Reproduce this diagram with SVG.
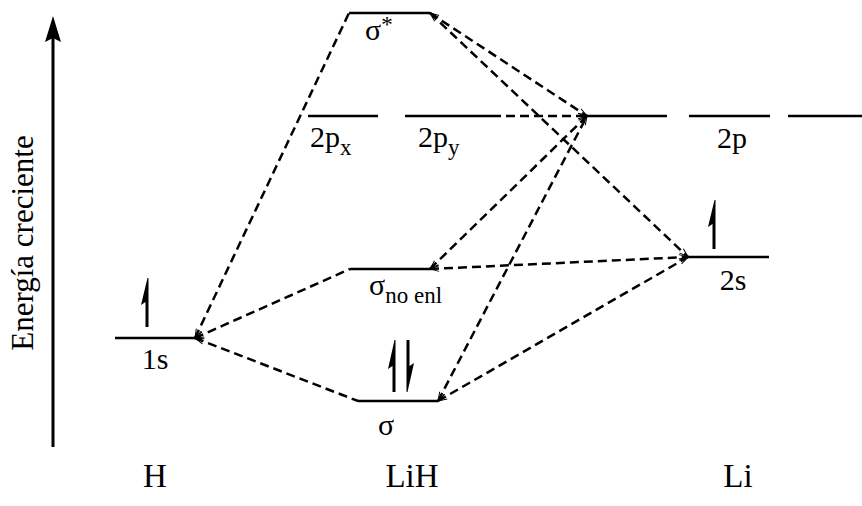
<svg xmlns="http://www.w3.org/2000/svg" width="862" height="506" viewBox="0 0 862 506">
<style>
.lvl{stroke:#000;stroke-width:2.6;fill:none}
.cn{stroke:#000;stroke-width:2.5;stroke-dasharray:9 5;fill:none}
text{font-family:"Liberation Serif","Times New Roman",serif;fill:#000}
.lb{font-size:30px}
.big{font-size:33px}
.sub{font-size:23px}
</style>
<defs>
<marker id="ch" markerUnits="userSpaceOnUse" markerWidth="14" markerHeight="10" refX="0" refY="0" viewBox="-12 -5 14 10" orient="auto-start-reverse" overflow="visible">
<path d="M-9,-2.8 L0,0 L-9,2.8" fill="none" stroke="#000" stroke-width="1"/>
</marker>
</defs>
<g id="axis">
<line x1="53" y1="447" x2="53" y2="36" stroke="#000" stroke-width="3"/>
<polygon points="53,16 61,42 53,38 45,42" fill="#000"/>
<text transform="translate(33,243) rotate(-90)" text-anchor="middle" style="font-size:31px">Energía creciente</text>
</g>
<g id="connectors">
<path class="cn" d="M195,338 L349,13" marker-start="url(#ch)"/>
<path class="cn" d="M195,338 L350,269" marker-start="url(#ch)"/>
<path class="cn" d="M195,338 L358,401" marker-start="url(#ch)"/>
<path class="cn" d="M430,13 L587,116" marker-start="url(#ch)" marker-end="url(#ch)"/>
<path class="cn" d="M430,13 L688,257" marker-start="url(#ch)" marker-end="url(#ch)"/>
<path class="cn" d="M492,116 L587,116" marker-end="url(#ch)"/>
<path class="cn" d="M430,269 L587,116" marker-start="url(#ch)" marker-end="url(#ch)"/>
<path class="cn" d="M430,269 L688,257" marker-start="url(#ch)" marker-end="url(#ch)"/>
<path class="cn" d="M438,401 L587,116" marker-start="url(#ch)" marker-end="url(#ch)"/>
<path class="cn" d="M438,401 L688,257" marker-start="url(#ch)" marker-end="url(#ch)"/>
</g>
<g id="H1s">
<line class="lvl" x1="115" y1="338" x2="195" y2="338"/>
<path d="M145.5,327 L145.5,302 L141,305 L147.5,278 L148.5,278 L148.5,327 Z" fill="#000"/>
<text class="lb" x="155" y="369" text-anchor="middle">1s</text>
</g>
<g id="sigmaStar">
<line class="lvl" x1="349" y1="13" x2="430" y2="13"/>
<text class="lb" x="365" y="40">σ<tspan class="sub" dy="-8">*</tspan></text>
</g>
<g id="p2x">
<line class="lvl" x1="308" y1="116" x2="378" y2="116"/>
<text class="lb" x="310" y="147">2p<tspan class="sub" dy="8">x</tspan></text>
</g>
<g id="p2y">
<line class="lvl" x1="405" y1="116" x2="492" y2="116"/>
<text class="lb" x="418" y="147">2p<tspan class="sub" dy="8">y</tspan></text>
</g>
<g id="sigmaNoEnl">
<line class="lvl" x1="350" y1="269" x2="430" y2="269"/>
<text class="lb" x="369" y="295">σ<tspan class="sub" dy="8">no enl</tspan></text>
</g>
<g id="sigma">
<line class="lvl" x1="358" y1="401" x2="438" y2="401"/>
<path d="M392.5,392 L392.5,366 L388,369 L394.5,340 L395.5,340 L395.5,392 Z" fill="#000"/>
<path d="M406.5,340 L406.5,392 L407.5,392 L414,363 L409.5,366 L409.5,340 Z" fill="#000"/>
<text class="lb" x="386" y="435" text-anchor="middle">σ</text>
</g>
<g id="Li2p">
<line class="lvl" x1="587" y1="116" x2="667" y2="116"/>
<line class="lvl" x1="689" y1="116" x2="770" y2="116"/>
<line class="lvl" x1="788" y1="116" x2="862" y2="116"/>
<text class="lb" x="732" y="148" text-anchor="middle">2p</text>
</g>
<g id="Li2s">
<line class="lvl" x1="688" y1="257" x2="769" y2="257"/>
<path d="M712.5,249 L712.5,224 L708,227 L714.5,200 L715.5,200 L715.5,249 Z" fill="#000"/>
<text class="lb" x="733" y="290" text-anchor="middle">2s</text>
</g>
<g id="labels">
<text class="big" x="155" y="487" text-anchor="middle">H</text>
<text class="big" x="412" y="487" text-anchor="middle">LiH</text>
<text class="big" x="738" y="487" text-anchor="middle">Li</text>
</g>
</svg>
